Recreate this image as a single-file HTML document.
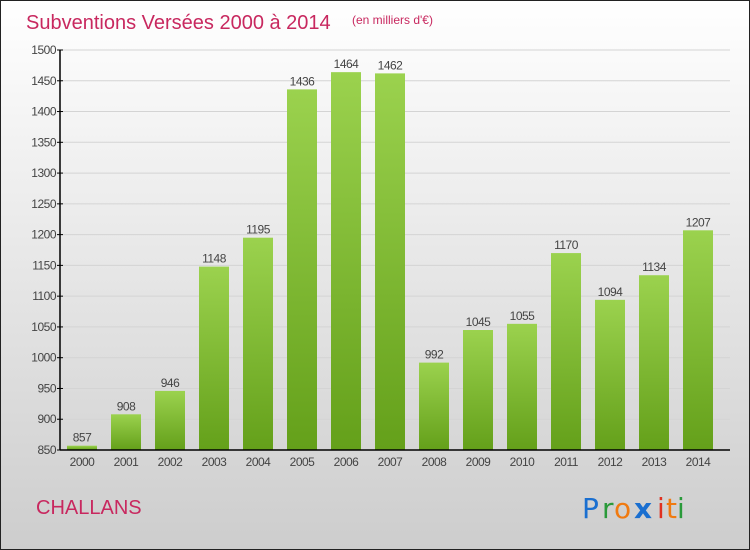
<!DOCTYPE html>
<html><head><meta charset="utf-8"><style>
body{margin:0;width:750px;height:550px;overflow:hidden;font-family:"Liberation Sans",sans-serif}
#wrap{position:absolute;left:0;top:0;width:748px;height:548px;border:1px solid #222;background:linear-gradient(#fff,#f0f0f0 30%,#cdcdcd)}
</style></head><body>
<div id="wrap">
<svg id="c" width="750" height="550" style="position:absolute;left:-1px;top:-1px">
<defs><linearGradient id="g" x1="0" y1="0" x2="0" y2="1"><stop offset="0" stop-color="#9bd24e"/><stop offset="1" stop-color="#64a01a"/></linearGradient></defs>
<text x="26" y="29" font-size="20" fill="#c8285f">Subventions Versées 2000 à 2014</text>
<text x="352" y="24" font-size="12" fill="#c8285f">(en milliers d'€)</text>
<text x="36" y="514" font-size="20" fill="#c8285f">CHALLANS</text>
<g font-size="28" font-family="'DejaVu Sans',sans-serif">
<text x="582" y="518" fill="#1a6fd0">P</text><text x="602" y="518" fill="#2a9a3a">r</text><text x="614" y="518" fill="#f07a10">o</text><text x="634" y="518" fill="#1a6fd0" font-weight="bold">x</text><text x="657" y="518" fill="#e03020">i</text><text x="666" y="518" fill="#f07a10">t</text><text x="677" y="518" fill="#2a9a3a">i</text></g>
</svg>
</div>
<script>
const years=["2000","2001","2002","2003","2004","2005","2006","2007","2008","2009","2010","2011","2012","2013","2014"];
const values=[857,908,946,1148,1195,1436,1464,1462,992,1045,1055,1170,1094,1134,1207];
const yTicks=[850,900,950,1000,1050,1100,1150,1200,1250,1300,1350,1400,1450,1500];
const svg=document.getElementById('c');const NS='http://www.w3.org/2000/svg';
const y0=450,y1=50,vmin=850,vmax=1500;
const yS=v=>y0-(v-vmin)*(y0-y1)/(vmax-vmin);
const xS=i=>82+i*44;
function mk(t,a){const e=document.createElementNS(NS,t);for(const k in a)e.setAttribute(k,a[k]);svg.appendChild(e);return e;}
yTicks.forEach(t=>{
 const l=mk('line',{x1:60,x2:730,y1:yS(t),y2:yS(t),stroke:'#d4d4d4','stroke-width':1});
 
 
 const k=mk('line',{x1:57,x2:63,y1:yS(t),y2:yS(t),stroke:'#000'});
 
 
 const tx=mk('text',{x:56,y:yS(t)+4,'font-size':12,fill:'#444','text-anchor':'end','letter-spacing':'-0.5'});tx.textContent=t;
 
 
});
values.forEach((v,i)=>{
 const r=mk('rect',{x:xS(i)-15,y:yS(v),width:30,height:y0-yS(v),fill:'url(#g)'});
 
 
 const t=mk('text',{x:xS(i),y:yS(v)-4,'font-size':12,fill:'#444','text-anchor':'middle','letter-spacing':'-0.5'});t.textContent=v;
 
 
 const xl=mk('text',{x:xS(i),y:466,'font-size':12,fill:'#444','text-anchor':'middle','letter-spacing':'-0.5'});xl.textContent=years[i];
 
 
});
const ya=mk('line',{x1:60,x2:60,y1:y1,y2:y0,stroke:'#000','stroke-width':1.5});


const xa=mk('line',{x1:60,x2:730,y1:y0,y2:y0,stroke:'#000','stroke-width':1.5});


</script>
</body></html>
